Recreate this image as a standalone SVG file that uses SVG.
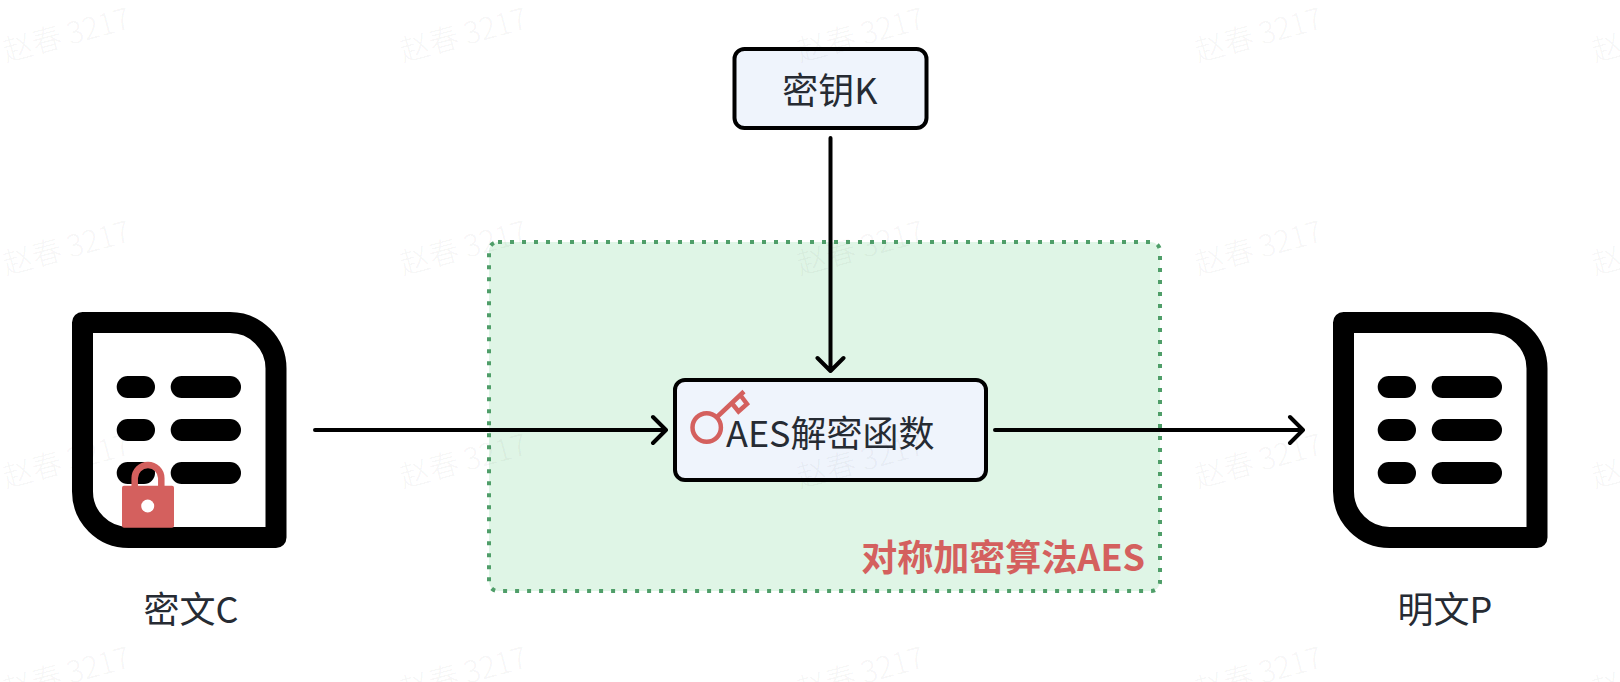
<svg xmlns="http://www.w3.org/2000/svg" width="1620" height="682" viewBox="0 0 1620 682">
<style>
.t{font-family:"Noto Sans CJK SC","Noto Sans",sans-serif;fill:#262b33;font-size:36px}
.wm{font-family:"Noto Sans CJK SC","Noto Sans",sans-serif;fill:#000;fill-opacity:.05;font-size:30px;font-weight:300}
.box{fill:#eff4fc;stroke:#000;stroke-width:4}
.c{fill:none;stroke:#000;stroke-width:4;stroke-linecap:round;stroke-linejoin:round}
.doc{fill:#fff;stroke:#000;stroke-width:21;stroke-linejoin:round}
</style>
<defs>
<g id="docicon">
<path class="doc" d="M82.500 322.500H230A46 46 0 0 1 276 368.500V537.500H128.500A46 46 0 0 1 82.500 491.500Z"/>
<rect x="116.700" y="376" width="38.300" height="22" rx="11"/><rect x="170.700" y="376" width="70.300" height="22" rx="11"/>
<rect x="116.700" y="419" width="38.300" height="22" rx="11"/><rect x="170.700" y="419" width="70.300" height="22" rx="11"/>
<rect x="116.700" y="462" width="38.300" height="22" rx="11"/><rect x="170.700" y="462" width="70.300" height="22" rx="11"/>
</g>
</defs>
<rect width="1620" height="682" fill="#fff"/>
<g id="group-aes">
<rect x="489" y="242" width="671" height="349" rx="9" fill="#dff5e6" stroke="#4f9e69" stroke-width="4" stroke-dasharray="4 8"/>
<text x="1145" y="571" text-anchor="end" font-size="36" font-weight="700" fill="#d4605e" style="font-family:'Noto Sans CJK SC','Noto Sans',sans-serif">对称加密算法AES</text>
</g>
<g id="node-cipher">
<use href="#docicon"/>
<g id="lock">
<path d="M134.700 488V478.300A13.300 13.300 0 0 1 161.300 478.300V488" fill="none" stroke="#d4605e" stroke-width="6.500"/>
<path d="M124 485.700H172a2 2 0 0 1 2 2V525.700a2 2 0 0 1-2 2H124a2 2 0 0 1-2-2V487.700a2 2 0 0 1 2-2Z" fill="#d4605e"/>
<circle cx="147.700" cy="506" r="6.500" fill="#fff"/>
</g>
<text class="t" x="191" y="623" text-anchor="middle">密文C</text>
</g>
<g id="node-plain">
<use href="#docicon" x="1261"/>
<text class="t" x="1445" y="623" text-anchor="middle">明文P</text>
</g>
<g id="node-key">
<rect class="box" x="734.500" y="49" width="192" height="79" rx="10"/>
<text class="t" x="830" y="104" text-anchor="middle">密钥K</text>
</g>
<g id="node-aes">
<rect class="box" x="675" y="380" width="311" height="100" rx="10"/>
<g id="key-icon" fill="none" stroke="#d4605e" stroke-width="4.500">
<circle cx="706.700" cy="427.500" r="14.200"/>
<path d="M717 417L744 391.500M741 396L747 404L738.500 411.500L732.500 404"/>
</g>
<text class="t" x="726" y="447">AES解密函数</text>
</g>
<g id="connectors">
<path class="c" d="M830.500 138V371M817.500 358L830.500 371L843.500 358"/>
<path class="c" d="M315 430H666M653 417L666 430L653 443"/>
<path class="c" d="M995 430H1303M1290 417L1303 430L1290 443"/>
</g>
<g id="watermarks" class="wm">
<text transform="translate(6 62) rotate(-15)">赵春 3217</text>
<text transform="translate(403 62) rotate(-15)">赵春 3217</text>
<text transform="translate(800 62) rotate(-15)">赵春 3217</text>
<text transform="translate(1198 62) rotate(-15)">赵春 3217</text>
<text transform="translate(1595 62) rotate(-15)">赵春 3217</text>
<text transform="translate(6 275) rotate(-15)">赵春 3217</text>
<text transform="translate(403 275) rotate(-15)">赵春 3217</text>
<text transform="translate(800 275) rotate(-15)">赵春 3217</text>
<text transform="translate(1198 275) rotate(-15)">赵春 3217</text>
<text transform="translate(1595 275) rotate(-15)">赵春 3217</text>
<text transform="translate(6 488) rotate(-15)">赵春 3217</text>
<text transform="translate(403 488) rotate(-15)">赵春 3217</text>
<text transform="translate(800 488) rotate(-15)">赵春 3217</text>
<text transform="translate(1198 488) rotate(-15)">赵春 3217</text>
<text transform="translate(1595 488) rotate(-15)">赵春 3217</text>
<text transform="translate(6 701) rotate(-15)">赵春 3217</text>
<text transform="translate(403 701) rotate(-15)">赵春 3217</text>
<text transform="translate(800 701) rotate(-15)">赵春 3217</text>
<text transform="translate(1198 701) rotate(-15)">赵春 3217</text>
<text transform="translate(1595 701) rotate(-15)">赵春 3217</text>
</g>
</svg>
